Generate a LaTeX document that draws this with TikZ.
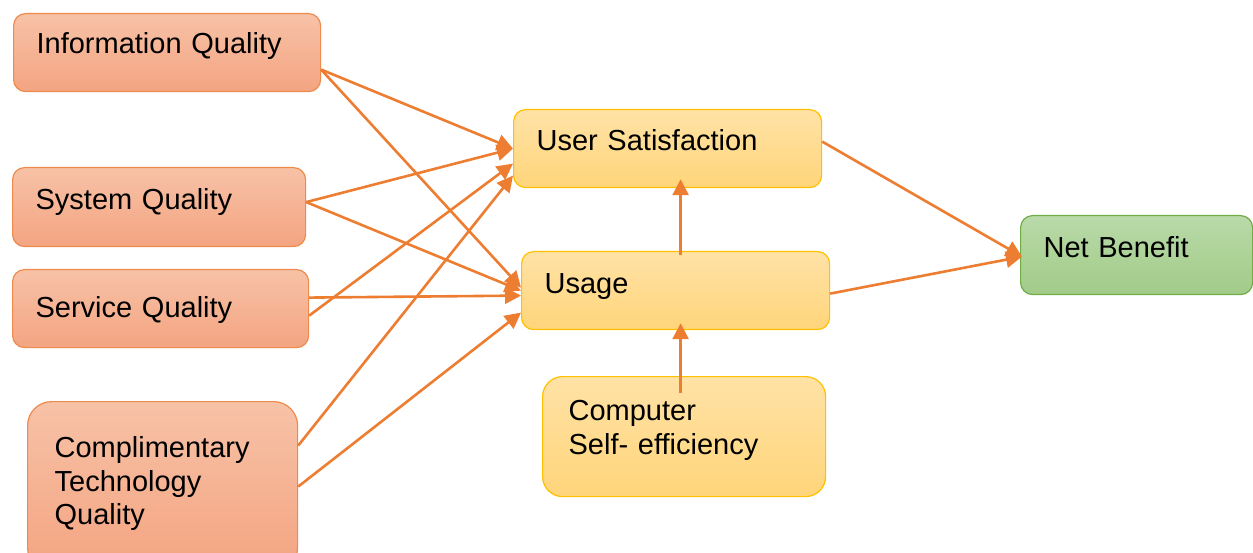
\documentclass[tikz,border=0pt]{standalone}
\usepackage{fontspec}
\setmainfont{Liberation Sans}
\usepackage{xcolor}
\usetikzlibrary{arrows.meta}
\definecolor{qtop}{HTML}{F7C2A7}
\definecolor{qbot}{HTML}{F4A481}
\definecolor{qline}{HTML}{EE8A4C}
\definecolor{utop}{HTML}{FFE2A6}
\definecolor{ubot}{HTML}{FFD57A}
\definecolor{uline}{HTML}{FFC000}
\definecolor{ntop}{HTML}{B9DAA9}
\definecolor{nbot}{HTML}{A2CB88}
\definecolor{nline}{HTML}{70AD47}
\definecolor{link}{HTML}{ED7D31}
\tikzset{
  box/.style={draw,rounded corners=12pt,align=left,anchor=north west,
              font=\fontsize{29}{33.5}\selectfont,inner xsep=23pt,
              inner ysep=0pt,text height=21pt,line width=1.2pt},
  qbox/.style={box,draw=qline,top color=qtop,bottom color=qbot},
  ubox/.style={box,draw=uline,top color=utop,bottom color=ubot},
  nbox/.style={box,draw=nline,top color=ntop,bottom color=nbot},
  arr/.style={-{Triangle[length=16pt,width=16pt]},line width=2.6pt,
              draw=link},
}
\begin{document}
\begin{tikzpicture}[x=1pt,y=-1pt]
\path[use as bounding box] (0,0) rectangle (1253,553);
\clip (0,0) rectangle (1253,553);

%% ---------- quality factors (left) ----------
\node[qbox,minimum width=307pt,minimum height=78pt,text width=261pt,
      text depth=19pt] (info) at (13,13) {Information Quality};
\node[qbox,minimum width=293pt,minimum height=79pt,text width=247pt,
      text depth=16pt] (sys) at (12,167) {System Quality};
\node[qbox,minimum width=296pt,minimum height=78pt,text width=250pt,
      text depth=3pt] (serv) at (12,269) {Service Quality};
\node[qbox,rounded corners=24pt,inner xsep=27pt,minimum width=270pt,
      minimum height=170pt,text width=216pt,text depth=79pt]
  (compl) at (27,401) {Complimentary\\Technology\\Quality};

%% ---------- use and satisfaction (middle) ----------
\node[ubox,minimum width=308pt,minimum height=78pt,text width=262pt,
      text depth=17pt] (usat) at (513,109) {User Satisfaction};
\node[ubox,minimum width=308pt,minimum height=78pt,text width=262pt,
      text depth=15pt] (usage) at (521,251) {Usage};
\node[ubox,rounded corners=20pt,inner xsep=26pt,minimum width=283pt,
      minimum height=120pt,text width=231pt,text depth=53pt]
  (cse) at (542,376) {Computer\\Self- efficiency};

%% ---------- outcome (right) ----------
\node[nbox,minimum width=232pt,minimum height=79pt,text width=186pt,
      text depth=16pt] (net) at (1020,215) {Net Benefit};

%% links into user satisfaction
\draw[arr] ([yshift=-17pt]info.east) -- (usat.west);
\draw[arr] ([yshift=5pt]sys.east) -- (usat.west);
\draw[arr] ([yshift=-7pt]serv.east) -- ([yshift=-15pt]usat.west);
\draw[arr] ([yshift=41pt]compl.east) -- ([yshift=-27pt]usat.west);

%% links into usage
\draw[arr] ([yshift=-17pt]info.east) -- ([yshift=3pt]usage.west);
\draw[arr] ([yshift=5pt]sys.east) -- (usage.west);
\draw[arr] ([yshift=11pt]serv.east) -- ([yshift=-5pt]usage.west);
\draw[arr] (compl.east) -- ([yshift=-22pt]usage.west);

%% vertical links
\draw[arr] ([xshift=5pt,yshift=-4pt]usage.north)
  -- ([xshift=13pt,yshift=9pt]usat.south);
\draw[arr] ([xshift=-3.5pt,yshift=-17pt]cse.north)
  -- ([xshift=5pt,yshift=7pt]usage.south);

%% links into net benefit
\draw[arr] ([yshift=7pt]usat.east) -- ([xshift=2pt,yshift=-1.5pt]net.west);
\draw[arr] ([yshift=-3pt]usage.east) -- ([xshift=2pt,yshift=-1.5pt]net.west);
\end{tikzpicture}
\end{document}
